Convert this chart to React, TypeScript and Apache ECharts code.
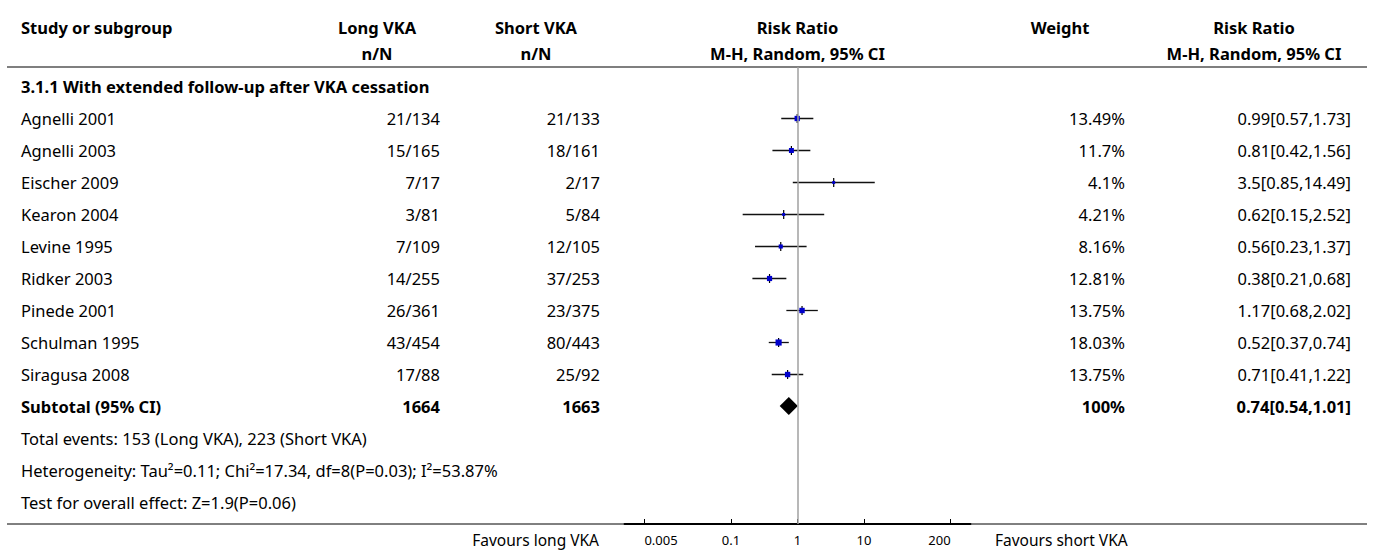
import React, { useEffect, useRef } from "react";
import * as echarts from "echarts";

// ---- data ----
const sectionTitle = "3.1.1 With extended follow-up after VKA cessation";
const studies = [
  "Agnelli 2001",
  "Agnelli 2003",
  "Eischer 2009",
  "Kearon 2004",
  "Levine 1995",
  "Ridker 2003",
  "Pinede 2001",
  "Schulman 1995",
  "Siragusa 2008",
];
const longVka = ["21/134", "15/165", "7/17", "3/81", "7/109", "14/255", "26/361", "43/454", "17/88"];
const shortVka = ["21/133", "18/161", "2/17", "5/84", "12/105", "37/253", "23/375", "80/443", "25/92"];
const weights = [13.49, 11.7, 4.1, 4.21, 8.16, 12.81, 13.75, 18.03, 13.75];
const rr = [0.99, 0.81, 3.5, 0.62, 0.56, 0.38, 1.17, 0.52, 0.71];
const rrLow = [0.57, 0.42, 0.85, 0.15, 0.23, 0.21, 0.68, 0.37, 0.41];
const rrHigh = [1.73, 1.56, 14.49, 2.52, 1.37, 0.68, 2.02, 0.74, 1.22];

const subtotalLabel = "Subtotal (95% CI)";
const subtotalLong = "1664";
const subtotalShort = "1663";
const subtotalWeight = 100;
const subtotalRR = [0.74, 0.54, 1.01];

const footnotes = [
  "Total events: 153 (Long VKA), 223 (Short VKA)",
  "Heterogeneity: Tau\u00b2=0.11; Chi\u00b2=17.34, df=8(P=0.03); I\u00b2=53.87%",
  "Test for overall effect: Z=1.9(P=0.06)",
];

const tickValues = [0.005, 0.1, 1, 10, 200];
const tickLabels = ["0.005", "0.1", "1", "10", "200"];
const favoursLeft = "Favours long VKA";
const favoursRight = "Favours short VKA";

// ---- style / layout ----
const FONT = "'Noto Sans', sans-serif";
const FS = 16.5;
const FS_BOLD = 16.5;
const FS_FAV = 15.5;
const FS_TICK = 13;
const W = 1375;
const H = 552;
const COL_STUDY = 21;
const COL_LONG = 440;
const COL_SHORT = 600;
const COL_WEIGHT = 1125;
const COL_CI = 1351;
const HEAD_LONG = 377;
const HEAD_SHORT = 536;
const HEAD_PLOT = 797.5;
const HEAD_WEIGHT = 1060;
const HEAD_CI = 1254;
const LINE_L = 7;
const LINE_R = 1367;
const HEADER_LINE_Y = 67;
const AXIS_Y = 524;
const ROW0_Y = 118;
const ROW_H = 32;
const FAV_Y = 540;

const fmtCI = (e: number, l: number, h: number) => `${e}[${l},${h}]`;

type Row = { row: number; cells: (string | null)[]; bold: boolean };

const tableRows: Row[] = [];
tableRows.push({ row: -1, cells: [sectionTitle], bold: true });
studies.forEach((s, i) => {
  tableRows.push({
    row: i,
    cells: [s, longVka[i], shortVka[i], `${weights[i]}%`, fmtCI(rr[i], rrLow[i], rrHigh[i])],
    bold: false,
  });
});
tableRows.push({
  row: studies.length,
  cells: [
    subtotalLabel,
    subtotalLong,
    subtotalShort,
    `${subtotalWeight}%`,
    fmtCI(subtotalRR[0], subtotalRR[1], subtotalRR[2]),
  ],
  bold: true,
});
footnotes.forEach((f, k) => {
  tableRows.push({ row: studies.length + 1 + k, cells: [f], bold: false });
});

const lg = (v: number) => Math.log10(v);
const crisp = (v: number) => Math.round(v) + 0.5;

export default function App() {
  const ref = useRef<HTMLDivElement>(null);

  useEffect(() => {
    if (!ref.current) return;
    const chart = echarts.init(ref.current, null, { renderer: "svg" });

    const colX = [COL_STUDY, COL_LONG, COL_SHORT, COL_WEIGHT, COL_CI];
    const colAlign = ["left", "right", "right", "right", "right"];

    const studyData = studies.map((_, i) => [lg(rr[i]), i, lg(rrLow[i]), lg(rrHigh[i]), weights[i]]);
    const subtotalData = [[lg(subtotalRR[0]), studies.length, lg(subtotalRR[1]), lg(subtotalRR[2])]];

    const headerText = (text: string, x: number, y: number, align: string) => ({
      type: "text",
      x,
      y,
      style: {
        text,
        fill: "#000",
        font: `bold ${FS_BOLD}px ${FONT}`,
        align,
        verticalAlign: "middle",
      },
    });

    const yMin = (HEADER_LINE_Y - ROW0_Y) / ROW_H;
    const yMax = (AXIS_Y - ROW0_Y) / ROW_H;

    const option: any = {
      animation: false,
      grid: {
        left: 624.5,
        right: W - 624.5 - 346,
        top: HEADER_LINE_Y,
        bottom: H - AXIS_Y,
        containLabel: false,
      },
      xAxis: {
        type: "value",
        min: -2.6,
        max: 2.6,
        splitLine: { show: false },
        axisLine: { show: true, onZero: false, lineStyle: { color: "#000", width: 1.8 } },
        axisTick: {
          show: true,
          inside: true,
          length: 5,
          customValues: tickValues.map(lg),
          lineStyle: { color: "#000", width: 1 },
        },
        axisLabel: {
          show: true,
          customValues: tickValues.map(lg),
          margin: 9,
          fontSize: FS_TICK,
          fontFamily: FONT,
          color: "#000",
          alignMinLabel: "left",
          alignMaxLabel: "right",
          formatter: (v: number) => {
            let best = 0;
            tickValues.forEach((t, i) => {
              if (Math.abs(lg(t) - v) < Math.abs(lg(tickValues[best]) - v)) best = i;
            });
            return tickLabels[best];
          },
        },
      },
      yAxis: {
        type: "value",
        inverse: true,
        min: yMin,
        max: yMax,
        show: false,
      },
      graphic: [
        headerText("Study or subgroup", COL_STUDY, 27, "left"),
        headerText("Long VKA", HEAD_LONG, 27, "center"),
        headerText("n/N", HEAD_LONG, 53, "center"),
        headerText("Short VKA", HEAD_SHORT, 27, "center"),
        headerText("n/N", HEAD_SHORT, 53, "center"),
        headerText("Risk Ratio", HEAD_PLOT, 27, "center"),
        headerText("M-H, Random, 95% CI", HEAD_PLOT, 53, "center"),
        headerText("Weight", HEAD_WEIGHT, 27, "center"),
        headerText("Risk Ratio", HEAD_CI, 27, "center"),
        headerText("M-H, Random, 95% CI", HEAD_CI, 53, "center"),
        {
          type: "line",
          shape: { x1: LINE_L, y1: HEADER_LINE_Y, x2: LINE_R, y2: HEADER_LINE_Y },
          style: { stroke: "#000", lineWidth: 1.2 },
        },
        {
          type: "line",
          shape: { x1: LINE_L, y1: AXIS_Y, x2: LINE_R, y2: AXIS_Y },
          style: { stroke: "#000", lineWidth: 1 },
          z: -1,
        },
        {
          type: "text",
          x: 599,
          y: FAV_Y,
          style: {
            text: favoursLeft,
            fill: "#000",
            font: `${FS_FAV}px ${FONT}`,
            align: "right",
            verticalAlign: "middle",
          },
        },
        {
          type: "text",
          x: 995,
          y: FAV_Y,
          style: {
            text: favoursRight,
            fill: "#000",
            font: `${FS_FAV}px ${FONT}`,
            align: "left",
            verticalAlign: "middle",
          },
        },
      ],
      series: [
        {
          type: "custom",
          name: "table",
          clip: false,
          silent: true,
          data: tableRows.map((r) => [0, r.row]),
          encode: { x: 0, y: 1 },
          renderItem: (params: any, api: any) => {
            const r = tableRows[params.dataIndex];
            const y = api.coord([0, r.row])[1];
            const children: any[] = [];
            r.cells.forEach((c, k) => {
              if (c == null) return;
              children.push({
                type: "text",
                x: colX[k],
                y,
                style: {
                  text: c,
                  fill: "#000",
                  font: `${r.bold ? "bold " : ""}${r.bold ? FS_BOLD : FS}px ${FONT}`,
                  align: colAlign[k],
                  verticalAlign: "middle",
                },
              });
            });
            return { type: "group", children };
          },
        },
        {
          type: "custom",
          name: "studies",
          clip: false,
          silent: true,
          data: studyData,
          encode: { x: 0, y: 1 },
          renderItem: (params: any, api: any) => {
            const est = api.coord([api.value(0), api.value(1)]);
            const lo = api.coord([api.value(2), api.value(1)]);
            const hi = api.coord([api.value(3), api.value(1)]);
            const s = Math.max(1.5, 1.45 * Math.sqrt(api.value(4)));
            const y = crisp(est[1]);
            return {
              type: "group",
              children: [
                {
                  type: "line",
                  shape: { x1: lo[0], y1: y, x2: hi[0], y2: y },
                  style: { stroke: "#111", lineWidth: 1.3 },
                },
                {
                  type: "line",
                  shape: { x1: est[0], y1: y - 4.5, x2: est[0], y2: y + 4.5 },
                  style: { stroke: "#000", lineWidth: 1.2 },
                },
                {
                  type: "rect",
                  shape: { x: est[0] - s / 2, y: y - s / 2, width: s, height: s },
                  style: { fill: "#0000cc" },
                },
              ],
            };
          },
          markLine: {
            silent: true,
            symbol: ["none", "none"],
            label: { show: false },
            lineStyle: { color: "#a0a0a0", width: 1.5, type: "solid" },
            data: [{ xAxis: 0 }],
          },
        },
        {
          type: "custom",
          name: "subtotal",
          clip: false,
          silent: true,
          data: subtotalData,
          encode: { x: 0, y: 1 },
          renderItem: (params: any, api: any) => {
            const est = api.coord([api.value(0), api.value(1)]);
            const lo = api.coord([api.value(2), api.value(1)]);
            const hi = api.coord([api.value(3), api.value(1)]);
            const h = 9;
            return {
              type: "polygon",
              shape: {
                points: [
                  [lo[0], est[1]],
                  [est[0], est[1] - h],
                  [hi[0], est[1]],
                  [est[0], est[1] + h],
                ],
              },
              style: { fill: "#000" },
            };
          },
        },
      ],
    };

    chart.setOption(option);
    return () => chart.dispose();
  }, []);

  return (
    <div
      ref={ref}
      style={{ position: "absolute", left: 0, top: 0, width: W, height: H, background: "#fff" }}
    />
  );
}
